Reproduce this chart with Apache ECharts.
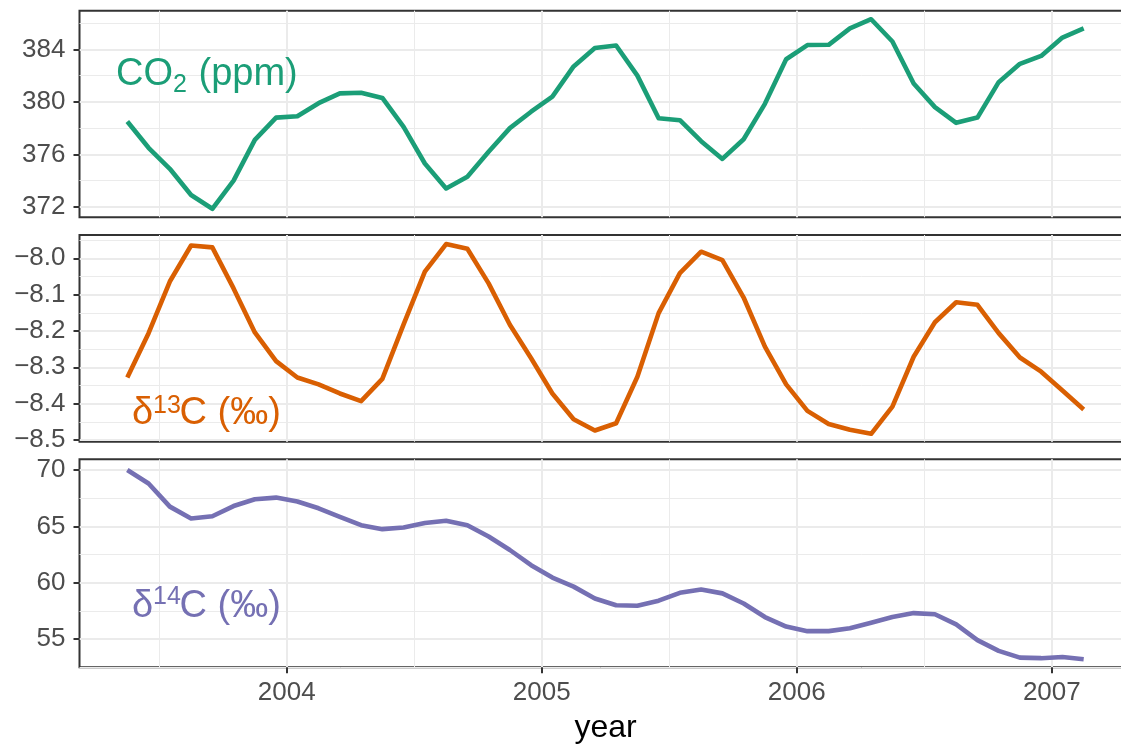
<!DOCTYPE html>
<html>
<head>
<meta charset="utf-8">
<script src="https://cdn.jsdelivr.net/npm/echarts@6/dist/echarts.min.js"></script>
<style>
html,body{margin:0;padding:0;background:#fff;}
#chart{width:1121px;height:745px;}
</style>
</head>
<body>
<div id="chart"></div>
<script>
// ---- data ----
const months = ['2003-05','2003-06','2003-07','2003-08','2003-09','2003-10','2003-11','2003-12',
  '2004-01','2004-02','2004-03','2004-04','2004-05','2004-06','2004-07','2004-08','2004-09','2004-10','2004-11','2004-12',
  '2005-01','2005-02','2005-03','2005-04','2005-05','2005-06','2005-07','2005-08','2005-09','2005-10','2005-11','2005-12',
  '2006-01','2006-02','2006-03','2006-04','2006-05','2006-06','2006-07','2006-08','2006-09','2006-10','2006-11','2006-12',
  '2007-01','2007-02'];

const co2 = [378.5,376.5,374.9,372.9,371.85,374.0,377.1,378.8,
  378.9,379.9,380.65,380.7,380.3,378.1,375.3,373.4,374.3,376.2,378.0,379.25,
  380.4,382.7,384.1,384.3,382.0,378.75,378.6,377.0,375.65,377.15,379.85,383.25,
  384.33,384.35,385.6,386.3,384.6,381.4,379.6,378.4,378.8,381.5,382.9,383.5,
  384.9,385.6];

const d13c = [-8.328,-8.206,-8.064,-7.965,-7.970,-8.083,-8.204,-8.283,
  -8.328,-8.347,-8.372,-8.393,-8.332,-8.182,-8.037,-7.961,-7.974,-8.069,-8.183,-8.275,
  -8.372,-8.443,-8.474,-8.454,-8.326,-8.151,-8.041,-7.982,-8.005,-8.108,-8.243,-8.347,
  -8.420,-8.456,-8.472,-8.483,-8.408,-8.271,-8.176,-8.121,-8.128,-8.206,-8.273,-8.312,
  -8.364,-8.416];

const d14c = [70.0,68.8,66.75,65.7,65.9,66.8,67.4,67.55,
  67.2,66.6,65.85,65.1,64.75,64.9,65.3,65.5,65.1,64.1,62.9,61.55,
  60.45,59.65,58.6,58.0,57.95,58.4,59.1,59.4,59.05,58.15,56.95,56.1,
  55.7,55.7,55.95,56.45,56.95,57.3,57.2,56.3,54.9,53.95,53.35,53.3,
  53.4,53.2];

const xMajorTicks = [2004, 2005, 2006, 2007];
const xMinorTicks = [2003.5, 2004.5, 2005.5, 2006.5];
const co2Ticks = [372, 376, 380, 384];
const co2Minor = [374, 378, 382, 386];
const d13cTicks = [-8.5, -8.4, -8.3, -8.2, -8.1, -8.0];
const d13cMinor = [-8.45, -8.35, -8.25, -8.15, -8.05, -7.95];
const d14cTicks = [55, 60, 65, 70];
const d14cMinor = [52.5, 57.5, 62.5, 67.5];

// month string -> decimal year at mid-month
function toYear(m) {
  const [y, mo] = m.split('-').map(Number);
  return y + (mo - 0.5) / 12;
}
const xs = months.map(toYear);
const pairs = arr => arr.map((v, i) => [xs[i], v]);

// ---- layout ----
const FONT = '"Liberation Sans", Arial, sans-serif';
const gridLeft = 79.5, gridWidth = 1052;
const panels = [
  { top: 10.7, height: 206.6, min: 371.2, max: 386.95, ticks: co2Ticks, minor: co2Minor, data: co2, color: '#1B9E77', fmt: v => String(v) },
  { top: 235, height: 206.7, min: -8.5047, max: -7.936, ticks: d13cTicks, minor: d13cMinor, data: d13c, color: '#D95F02', fmt: v => v.toFixed(1).replace('-', '\u2212') },
  { top: 459.3, height: 208, min: 52.49, max: 70.95, ticks: d14cTicks, minor: d14cMinor, data: d14c, color: '#7570B3', fmt: v => String(v) }
];
const xMin = 2003.1875, xMax = 2007.3125;

const grid = [], xAxis = [], yAxis = [], series = [];
panels.forEach((p, k) => {
  const last = k === panels.length - 1;
  grid.push({ left: gridLeft, top: p.top, width: gridWidth, height: p.height,
    outerBoundsMode: 'none', containLabel: false,
    show: true, borderColor: '#333333', borderWidth: 2, backgroundColor: 'transparent' });
  // major x
  xAxis.push({
    gridIndex: k, type: 'value', min: xMin, max: xMax,
    axisLine: { show: false },
    axisTick: { show: last, customValues: xMajorTicks, length: 6, lineStyle: { color: '#333333', width: 2 } },
    axisLabel: { show: last, customValues: xMajorTicks, color: '#4D4D4D', fontSize: 26, fontFamily: FONT, margin: 13, formatter: v => String(v) },
    splitLine: { show: true, lineStyle: { color: '#EBEBEB', width: 2 } },
    name: last ? 'year' : '', nameLocation: 'middle', nameGap: 45,
    nameTextStyle: { color: '#000000', fontSize: 32, fontFamily: FONT }
  });
  // minor x
  xAxis.push({
    gridIndex: k, type: 'value', min: xMin, max: xMax,
    axisLine: { show: false },
    axisTick: { show: false, customValues: xMinorTicks },
    axisLabel: { show: false, customValues: xMinorTicks },
    splitLine: { show: true, lineStyle: { color: '#EBEBEB', width: 1 } }
  });
  // major y
  yAxis.push({
    gridIndex: k, type: 'value', min: p.min, max: p.max,
    axisLine: { show: false },
    axisTick: { show: true, customValues: p.ticks, length: 6, lineStyle: { color: '#333333', width: 2 } },
    axisLabel: { show: true, customValues: p.ticks, color: '#4D4D4D', fontSize: 26, fontFamily: FONT, margin: 14, formatter: p.fmt },
    splitLine: { show: true, lineStyle: { color: '#EBEBEB', width: 2 } }
  });
  // minor y
  yAxis.push({
    gridIndex: k, type: 'value', min: p.min, max: p.max,
    axisLine: { show: false },
    axisTick: { show: false, customValues: p.minor },
    axisLabel: { show: false, customValues: p.minor },
    splitLine: { show: true, lineStyle: { color: '#EBEBEB', width: 1 } }
  });
  series.push({
    type: 'line', xAxisIndex: 2 * k, yAxisIndex: 2 * k,
    data: pairs(p.data), showSymbol: false, symbol: 'none',
    lineStyle: { color: p.color, width: 4.6, join: 'round' },
    itemStyle: { color: p.color }, silent: true, animation: false, z: 5
  });
});

function txt(text, x, y, size, color) {
  return { type: 'text', x: x, y: y, z: 100, silent: true,
    style: { text: text, x: 0, y: 0, font: size + 'px ' + FONT, fill: color, textAlign: 'left', textVerticalAlign: 'middle' } };
}

const graphic = [
  txt('CO', 116, 74.3, 38, '#1B9E77'),
  txt('2', 173, 85.3, 25, '#1B9E77'),
  txt('(ppm)', 198.5, 74.3, 38, '#1B9E77'),
  txt('\u03B4', 132, 413.8, 38, '#D95F02'),
  txt('13', 153, 405.9, 25, '#D95F02'),
  txt('C (\u2030)', 179.5, 413.8, 38, '#D95F02'),
  txt('\u03B4', 132, 606.3, 38, '#7570B3'),
  txt('14', 153, 597.2, 25, '#7570B3'),
  txt('C (\u2030)', 179.5, 606.3, 38, '#7570B3')
];

const chart = echarts.init(document.getElementById('chart'), null, { renderer: 'canvas' });
chart.setOption({
  animation: false,
  backgroundColor: '#ffffff',
  textStyle: { fontFamily: FONT },
  grid, xAxis, yAxis, series, graphic
});
</script>
</body>
</html>
